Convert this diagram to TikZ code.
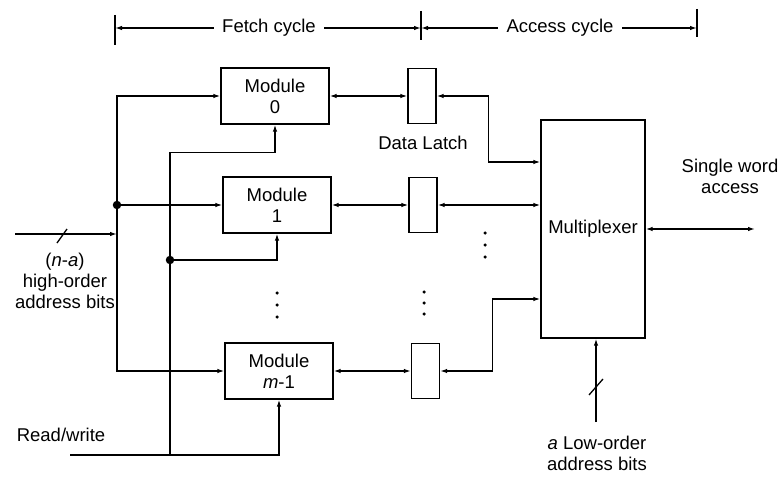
\documentclass[tikz,border=0pt]{standalone}
\usepackage{fontspec}
\setmainfont{Liberation Sans}
\usetikzlibrary{arrows.meta,positioning,calc}

\begin{document}
\begin{tikzpicture}[x=1pt,y=-1pt,>={Latex[length=7pt,width=4.5pt]},line width=1.3pt,
  font=\fontsize{18.5}{21}\selectfont,
  module/.style={draw,minimum width=108pt,minimum height=56pt,align=center,inner sep=0pt},
  latch/.style={draw,minimum width=28pt,minimum height=55pt,inner sep=0pt},
  junction/.style={circle,fill,inner sep=0pt,minimum size=8.5pt},
  vdot/.style={circle,fill,inner sep=0pt,minimum size=3.5pt},
  lbl/.style={align=center,inner sep=2pt}]
  \useasboundingbox (0,0) rectangle (779,484);
  \draw (115,15) -- (115,45);
  \draw (421,11) -- (421,40);
  \draw (697,9) -- (697,37);
  \node[lbl,inner sep=8pt] (fetch) at (269,28) {Fetch cycle};
  \node[lbl,inner sep=8pt] (access) at (560,28) {Access cycle};
  \draw[->] (fetch.west) -- (115,28);
  \draw[->] (fetch.east) -- (421,28);
  \draw[->] (access.west) -- (421,28);
  \draw[->] (access.east) -- (697,28);
  \node[module] (m0) at (275,96) {Module\\0};
  \node[module] (m1) at (277,205) {Module\\1};
  \node[module] (mm) at (279,371) {Module\\\textit{m}-1};
  \node[latch] (l0) at (422,96) {};
  \node[latch] (l1) at (423,205) {};
  \node[latch] (lm) at (425.5,371) {};
  \node[draw,minimum width=104pt,minimum height=218pt] (mux) at (593,229) {Multiplexer};
  \foreach \y in {293,305,317} \node[vdot] (dm\y) at (277,\y) {};
  \foreach \y in {292,303,314} \node[vdot] (dl\y) at (424,\y) {};
  \foreach \y in {233,245,257} \node[vdot] (dx\y) at (485,\y) {};
  \node[lbl] (latchlbl) at (423,143) {Data Latch};
  \node[lbl] (hilbl) at (65,281) {(\textit{n}-\textit{a})\\high-order\\address bits};
  \node[lbl] (rwlbl) at (61,435) {Read/write};
  \node[lbl] (outlbl) at (730,176) {Single word\\access};
  \node[lbl] (lolbl) at (597,453) {\textit{a} Low-order\\address bits};
  \coordinate (hj) at (117,205);
  \coordinate (hin) at (15,234);
  \coordinate (rw) at (70,455);
  \coordinate (rj) at (170,260);
  \coordinate (out) at (755,229);
  \coordinate (lo) at (596,422);
  \draw[->] (hin) -- (hin -| hj);
  \draw (57,243) -- (67,229);
  \draw[->] (hj) |- (m0.west);
  \draw[->] (hj) -- (m1.west);
  \draw[->] (hj) |- (mm.west);
  \draw[->] (rw) -| (mm.south);
  \draw (rw -| rj) -- (rj);
  \draw[->] (rj) |- ($(m0.south)+(0,28)$) -| (m0.south);
  \draw[->] (rj) -| (m1.south);
  \node[junction] (hjdot) at (hj) {};
  \node[junction] (rjdot) at (rj) {};
  \draw[<->] (m0.east) -- (m0.east -| l0.west);
  \draw[<->] (m1.east) -- (m1.east -| l1.west);
  \draw[<->] (mm.east) -- (mm.east -| lm.west);
  \draw[<->] (l0.east) -- ++(52,0) |- (mux.west |- 0,162);
  \draw[<->] (l1.east) -- (l1.east -| mux.west);
  \draw[<->] (lm.east) -- ++(52,0) |- (mux.west |- 0,299);
  \draw[<->] (mux.east) -- (out);
  \draw[->] (lo) -- (lo |- mux.south);
  \draw (589,395) -- (603,379);
\end{tikzpicture}
\end{document}
